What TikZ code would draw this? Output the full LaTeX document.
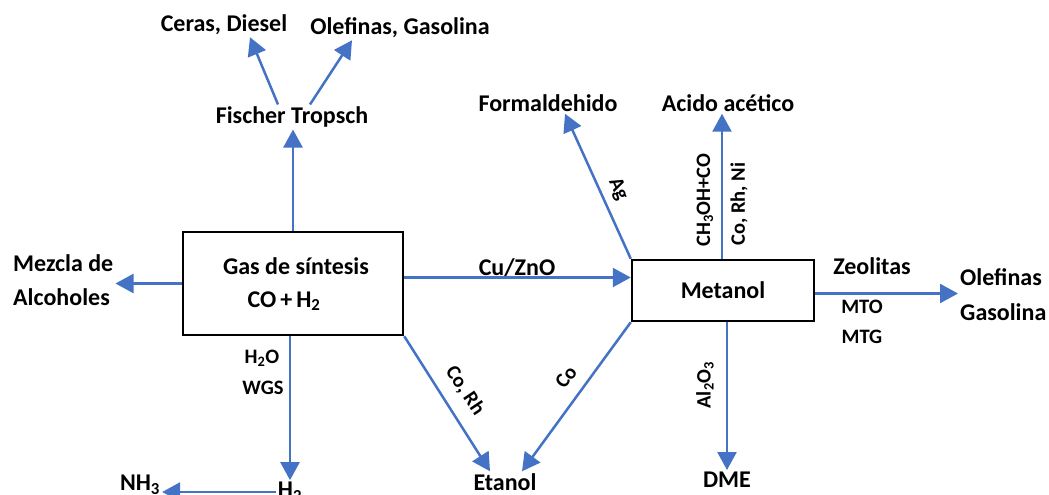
\documentclass[tikz,border=0pt]{standalone}
\usepackage{fontspec}
\setmainfont{Carlito}
\usetikzlibrary{arrows.meta,calc}
\definecolor{flow}{HTML}{4472C4}
\tikzset{
  lbl/.style={font=\bfseries\fontsize{24}{26}\selectfont, inner sep=2pt},
  cat/.style={font=\bfseries\fontsize{20.5}{22}\selectfont, inner sep=0pt},
  box/.style={draw=black, line width=2.5pt, fill=white, inner sep=0pt},
  flowarrow/.style={draw=flow, line width=2.5pt, -{Triangle[length=18pt,width=19pt]}},
}
\begin{document}
\begin{tikzpicture}[x=1pt,y=-1pt]
\useasboundingbox (0,0) rectangle (1049,495);

% process boxes
\node[box, minimum width=220pt, minimum height=103pt] (gas) at (293,283.5) {};
\node[lbl] (gasname) at (296,266) {Gas de síntesis};
\node[lbl] (gasmix)  at (284,301) {CO\,+\,H\textsubscript{2}};
\node[box, minimum width=182pt, minimum height=61pt,
      font=\bfseries\fontsize{24}{26}\selectfont] (met) at (723,290.5) {Metanol};

% products
\node[lbl] (ft)     at (292,117) {Fischer Tropsch};
\node[lbl] (ceras)  at (224,25)  {Ceras, Diesel};
\node[lbl] (olefg)  at (400,28)  {Olefinas, Gasolina};
\node[lbl, align=left, anchor=west, font=\bfseries\fontsize{24}{34}\selectfont]
           (mezcla) at (11,280)  {Mezcla de\\Alcoholes};
\node[lbl] (h2)     at (290,492) {H\textsubscript{2}};
\node[lbl] (nh3)    at (140,485) {NH\textsubscript{3}};
\node[lbl] (etanol) at (505,482) {Etanol};
\node[lbl] (formal) at (548,103) {Formaldehido};
\node[lbl] (acido)  at (728,103) {Acido acético};
\node[lbl, align=left, anchor=west, font=\bfseries\fontsize{24}{35}\selectfont]
           (olefin) at (958,295) {Olefinas\\Gasolina};
\node[lbl] (dme)    at (727,480) {DME};

% connectors
\coordinate (cuzstart) at ([yshift=6pt]gas.east);
\draw[flowarrow] (gas.north) -- (gas.north |- ft.south);
\draw[flowarrow] ([xshift=-14pt]ft.north) -- ([xshift=26pt]ceras.south);
\draw[flowarrow] ([xshift=18pt]ft.north) -- ([xshift=-48pt]olefg.south);
\draw[flowarrow] (gas.west) -- (gas.west -| mezcla.east);
\draw[flowarrow] (cuzstart) -- (cuzstart -| met.west);
\draw[flowarrow] ([xshift=-3pt]gas.south) -- (h2.north);
\draw[flowarrow] (h2.west) -- (h2.west -| nh3.east);
\draw[flowarrow] (gas.south east) -- ([xshift=-15pt]etanol.north);
\draw[flowarrow] (met.south west) -- ([xshift=17pt]etanol.north);
\draw[flowarrow] (met.north west) -- ([xshift=17pt]formal.south);
\draw[flowarrow] ([xshift=-1pt]met.north) -- ([xshift=-1pt]met.north |- acido.south);
\draw[flowarrow] ([yshift=-3pt]met.east) -- ([yshift=-3pt]met.east -| olefin.west);
\draw[flowarrow] ([xshift=4pt]met.south) -- ([xshift=4pt]met.south |- dme.north);

% conditions and catalysts
\node[lbl] (cuzno) at (517,268) {Cu/ZnO};
\node[cat] (h2o)   at (262,358) {H\textsubscript{2}O};
\node[cat] (wgs)   at (263,388) {WGS};
\node[cat, rotate=-56] (corh) at (465,391) {Co, Rh};
\node[cat, rotate=53]  (co)   at (566,377) {Co};
\node[cat, rotate=-65] (ag)   at (618,189) {Ag};
\node[cat, rotate=90]  (ch3oh) at (705,200) {CH\textsubscript{3}OH+CO};
\node[cat, rotate=90]  (corhni) at (739,204) {Co, Rh, Ni};
\node[lbl] (zeol)  at (872,266) {Zeolitas};
\node[cat] (mto)   at (862,307) {MTO};
\node[cat] (mtg)   at (862,337) {MTG};
\node[cat, rotate=90] (al2o3) at (705,385) {Al\textsubscript{2}O\textsubscript{3}};
\end{tikzpicture}
\end{document}
